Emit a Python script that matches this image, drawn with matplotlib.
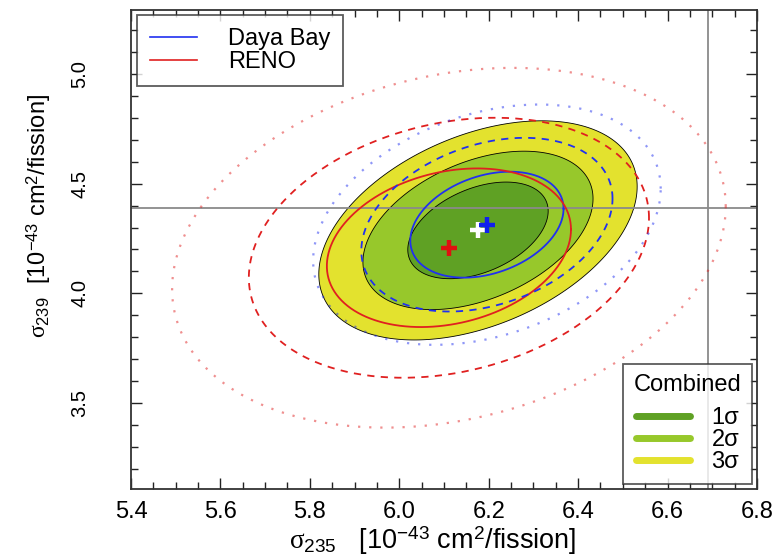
import numpy as np
import matplotlib
matplotlib.use("Agg")
import matplotlib.pyplot as plt
from matplotlib.lines import Line2D

plt.rcParams['font.family'] = ['Liberation Sans', 'DejaVu Sans']
plt.rcParams['mathtext.fontset'] = 'custom'
plt.rcParams['mathtext.rm'] = 'Liberation Sans'
plt.rcParams['mathtext.it'] = 'Liberation Serif'

# best fit points (sigma235, sigma239) and uncertainties
combined_fit = [6.176, 4.287]
combined_sig = [0.1035, 0.145]
combined_rho = 0.40

dayabay_fit = [6.196, 4.313]
dayabay_sig = [0.113, 0.159]
dayabay_rho = 0.30

reno_fit = [6.111, 4.208]
reno_sig = [0.180, 0.238]
reno_rho = 0.23

# delta chi2 for 1, 2, 3 sigma with 2 dof
dchi2 = [2.30, 6.18, 11.83]
levels = ['1σ', '2σ', '3σ']
fill_colors = ['#5fa124', '#97c82b', '#e3e22e']

# model prediction lines
pred235 = 6.69
pred239 = 4.39


def contour(fit, sig, rho, d):
    t = np.linspace(0, 2 * np.pi, 400)
    k = np.sqrt(d)
    x = fit[0] + k * sig[0] * np.cos(t)
    y = fit[1] + k * sig[1] * (rho * np.cos(t) + np.sqrt(1 - rho ** 2) * np.sin(t))
    return x, y


fig = plt.figure(figsize=(7.76, 5.59), dpi=100)
ax = fig.add_axes([131 / 776, 1 - 489 / 559, 626 / 776, 479 / 559])

# combined filled regions, largest first
for i in [2, 1, 0]:
    x, y = contour(combined_fit, combined_sig, combined_rho, dchi2[i])
    ax.fill(x, y, facecolor=fill_colors[i], edgecolor='black', lw=0.6, zorder=1)

ax.axhline(pred239, color='#8a8a8a', lw=1.3, zorder=2)
ax.axvline(pred235, color='#8a8a8a', lw=1.3, zorder=2)

styles = ['-', (0, (4, 3.5)), (0, (1, 4))]
alphas = [1.0, 1.0, 0.5]
for i in range(3):
    x, y = contour(dayabay_fit, dayabay_sig, dayabay_rho, dchi2[i])
    ax.plot(x, y, color='#2030f0', lw=1.3 if i < 2 else 1.6, ls=styles[i], alpha=alphas[i], zorder=3)
    x, y = contour(reno_fit, reno_sig, reno_rho, dchi2[i])
    ax.plot(x, y, color='#e02020', lw=1.3 if i < 2 else 1.6, ls=styles[i], alpha=alphas[i], zorder=3)

ax.plot(combined_fit[0], combined_fit[1], marker='+', color='white', ms=12, mew=3.2, zorder=4)
ax.plot(reno_fit[0], reno_fit[1], marker='+', color='#e01010', ms=12, mew=3.2, zorder=4)
ax.plot(dayabay_fit[0], dayabay_fit[1], marker='+', color='#1020ee', ms=12, mew=3.2, zorder=5)

ax.set_xlim(5.4, 6.8)
ax.set_ylim(3.11, 5.29)
ax.set_xticks(np.arange(5.4, 6.81, 0.2))
ax.set_xticks(np.arange(5.4, 6.81, 0.05), minor=True)
ax.set_yticks([3.5, 4.0, 4.5, 5.0])
ax.set_yticks(np.arange(3.2, 5.25, 0.1), minor=True)
ax.set_xticklabels(['%.1f' % v for v in np.arange(5.4, 6.81, 0.2)], fontsize=17)
ax.set_yticklabels(['3.5', '4.0', '4.5', '5.0'], fontsize=14.5, rotation=90, va='center')
ax.tick_params(which='both', direction='in', top=True, right=True, width=1.0, color='#222222')
ax.tick_params(which='major', length=8)
ax.tick_params(which='minor', length=5)
ax.tick_params(axis='x', pad=9)
ax.tick_params(axis='y', pad=30)
for s in ax.spines.values():
    s.set_linewidth(1.3)
    s.set_color('#333333')

fig.text(433 / 776, 1 - 541 / 559, r'$\sigma_{235}$   [10$^{-43}$ cm$^{2}$/fission]',
         ha='center', va='center', fontsize=19.5)
fig.text(39 / 776, 1 - 216 / 559, r'$\sigma_{239}$  [10$^{-43}$ cm$^{2}$/fission]',
         ha='center', va='center', rotation=90, fontsize=17)

h1 = [Line2D([], [], color='#2030f0', lw=1.2), Line2D([], [], color='#e02020', lw=1.2)]
leg1 = ax.legend(h1, ['Daya Bay', 'RENO'], loc='upper left', bbox_to_anchor=(0.0096, 0.99),
                 fontsize=17, frameon=True, fancybox=False, edgecolor='#333333',
                 handlelength=2.0, handletextpad=1.3, borderpad=0.55, labelspacing=0.05,
                 borderaxespad=0)
leg1.get_frame().set_linewidth(1.3)
ax.add_artist(leg1)

h2 = [Line2D([], [], color=c, lw=5, solid_capstyle='round') for c in fill_colors]
leg2 = ax.legend(h2, levels, title='Combined', loc='lower right', bbox_to_anchor=(0.992, 0.0104),
                 fontsize=17, title_fontsize=17, frameon=True, fancybox=False, edgecolor='#333333',
                 handlelength=2.3, handletextpad=0.9, borderpad=0.45, labelspacing=0.0,
                 borderaxespad=0, alignment='center')
leg2._legend_box.sep = 8
leg2.get_frame().set_linewidth(1.3)

fig.savefig('out.png', dpi=100)
